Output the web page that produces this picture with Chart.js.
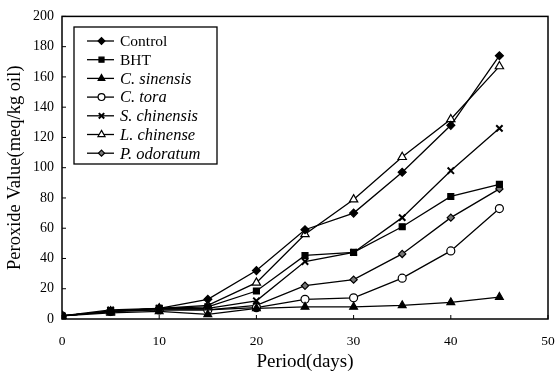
<!DOCTYPE html>
<html>
<head>
<meta charset="utf-8">
<script src="https://cdn.jsdelivr.net/npm/chart.js@4/dist/chart.umd.min.js"></script>
<style>
html,body{margin:0;padding:0;background:#fff;}
#wrap{width:555px;height:377px;position:relative;}
</style>
</head>
<body>
<div id="wrap"><canvas id="c" width="555" height="377"></canvas></div>
<script>
const days = [0, 5, 10, 15, 20, 25, 30, 35, 40, 45];
const seriesNames = ["Control", "BHT", "C. sinensis", "C. tora", "S. chinensis", "L. chinense", "P. odoratum"];
const control     = [2, 5, 7, 13, 32, 59, 70, 97, 128, 174];
const bht         = [2, 5, 7, 8, 18.5, 42, 44, 61, 81, 89];
const cSinensis   = [2, 4, 5, 3, 7, 8, 8, 9, 11, 14.5];
const cTora       = [2, 5, 6, 6, 7.5, 13, 14, 27, 45, 73];
const sChinensis  = [2, 6, 7, 7, 12, 38, 44, 67, 98, 126];
const lChinense   = [2, 5, 7, 9, 24, 56, 79, 107, 132, 167];
const pOdoratum   = [2, 5, 6, 6, 9, 22, 26, 43, 67, 86];
const xTicks = [0, 10, 20, 30, 40, 50];
const yTicks = [0, 20, 40, 60, 80, 100, 120, 140, 160, 180, 200];

const allValues = [control, bht, cSinensis, cTora, sChinensis, lChinense, pOdoratum];
const styles = [
  {ps:'rectRot', r:4, fill:'#000'},
  {ps:'rect', r:4.2, fill:'#000'},
  {ps:'triangle', r:4.5, fill:'#000'},
  {ps:'circle', r:4, fill:'#fff'},
  {ps:'crossRot', r:4.5, fill:'#000', bw:2},
  {ps:'triangle', r:4.8, fill:'#fff'},
  {ps:'rectRot', r:3.6, fill:'#777'}
];
const italic = [false, false, true, true, true, true, true];

const datasets = allValues.map((vals, i) => ({
  label: seriesNames[i],
  data: days.map((d, j) => ({x: d, y: vals[j]})),
  borderColor: '#000',
  borderWidth: 1.3,
  pointStyle: styles[i].ps,
  pointRadius: styles[i].r,
  pointBackgroundColor: styles[i].fill,
  pointBorderColor: '#000',
  pointBorderWidth: styles[i].bw || 1.2,
  tension: 0,
  fill: false
}));

const serif = "'Liberation Serif', 'Times New Roman', serif";

const framePlugin = {
  id: 'frame',
  afterDraw(chart) {
    const ctx = chart.ctx, a = chart.chartArea;
    const xs = chart.scales.x, ys = chart.scales.y;
    ctx.save();
    ctx.strokeStyle = '#000';
    ctx.lineWidth = 1.5;
    ctx.strokeRect(a.left, a.top, a.right - a.left, a.bottom - a.top);
    ctx.lineWidth = 1;
    ctx.beginPath();
    yTicks.forEach(v => { const p = ys.getPixelForValue(v); ctx.moveTo(a.left, p); ctx.lineTo(a.left + 4, p); });
    xTicks.forEach(v => { const p = xs.getPixelForValue(v); ctx.moveTo(p, a.bottom); ctx.lineTo(p, a.bottom - 4); });
    ctx.stroke();

    // legend
    const lx = 74, ly = 27, lw = 143, lh = 137;
    ctx.lineWidth = 1.3;
    ctx.strokeRect(lx, ly, lw, lh);
    ctx.textBaseline = 'middle';
    ctx.fillStyle = '#000';
    seriesNames.forEach((name, i) => {
      const y = ly + 14 + i * 18.7;
      ctx.beginPath();
      ctx.lineWidth = 1.3;
      ctx.moveTo(lx + 13, y); ctx.lineTo(lx + 40, y);
      ctx.stroke();
      const s = styles[i];
      ctx.fillStyle = s.fill;
      ctx.strokeStyle = '#000';
      ctx.lineWidth = s.bw || 1.2;
      Chart.helpers.drawPoint(ctx, {pointStyle: s.ps, radius: s.r * 0.85, rotation: 0, borderWidth: s.bw || 1.2}, lx + 27.5, y);
      ctx.fillStyle = '#000';
      ctx.font = (italic[i] ? 'italic 16.5px ' : '15.5px ') + serif;
      ctx.textAlign = 'left';
      ctx.fillText(name, lx + 46, y + 1);
    });
    ctx.restore();
  }
};

new Chart(document.getElementById('c'), {
  type: 'line',
  data: { datasets },
  plugins: [framePlugin],
  options: {
    responsive: false,
    animation: false,
    devicePixelRatio: 1,
    layout: { padding: { top: 14, right: 0, left: 0, bottom: 0 } },
    plugins: { legend: { display: false }, tooltip: { enabled: false } },
    scales: {
      x: {
        type: 'linear', min: 0, max: 50,
        afterBuildTicks: s => { s.ticks = xTicks.map(v => ({value: v})); },
        afterFit: s => { s.height = 58; s.paddingRight = 7; s.paddingLeft = 0; },
        grid: { display: false, drawTicks: false },
        border: { display: false },
        ticks: { color: '#000', font: { family: serif, size: 13.5 }, padding: 14, maxRotation: 0 },
        title: { display: true, text: 'Period(days)', color: '#000', font: { family: serif, size: 19 }, padding: { top: 0 } }
      },
      y: {
        type: 'linear', min: 0, max: 200,
        afterBuildTicks: s => { s.ticks = yTicks.map(v => ({value: v})); },
        afterFit: s => { s.width = 62; },
        grid: { display: false, drawTicks: false },
        border: { display: false },
        ticks: { color: '#000', font: { family: serif, size: 14 }, padding: 8 },
        title: { display: true, text: 'Peroxide Value(meq/kg oil)', color: '#000', font: { family: serif, size: 18.5 }, padding: { bottom: 0 } }
      }
    }
  }
});
</script>
</body>
</html>
